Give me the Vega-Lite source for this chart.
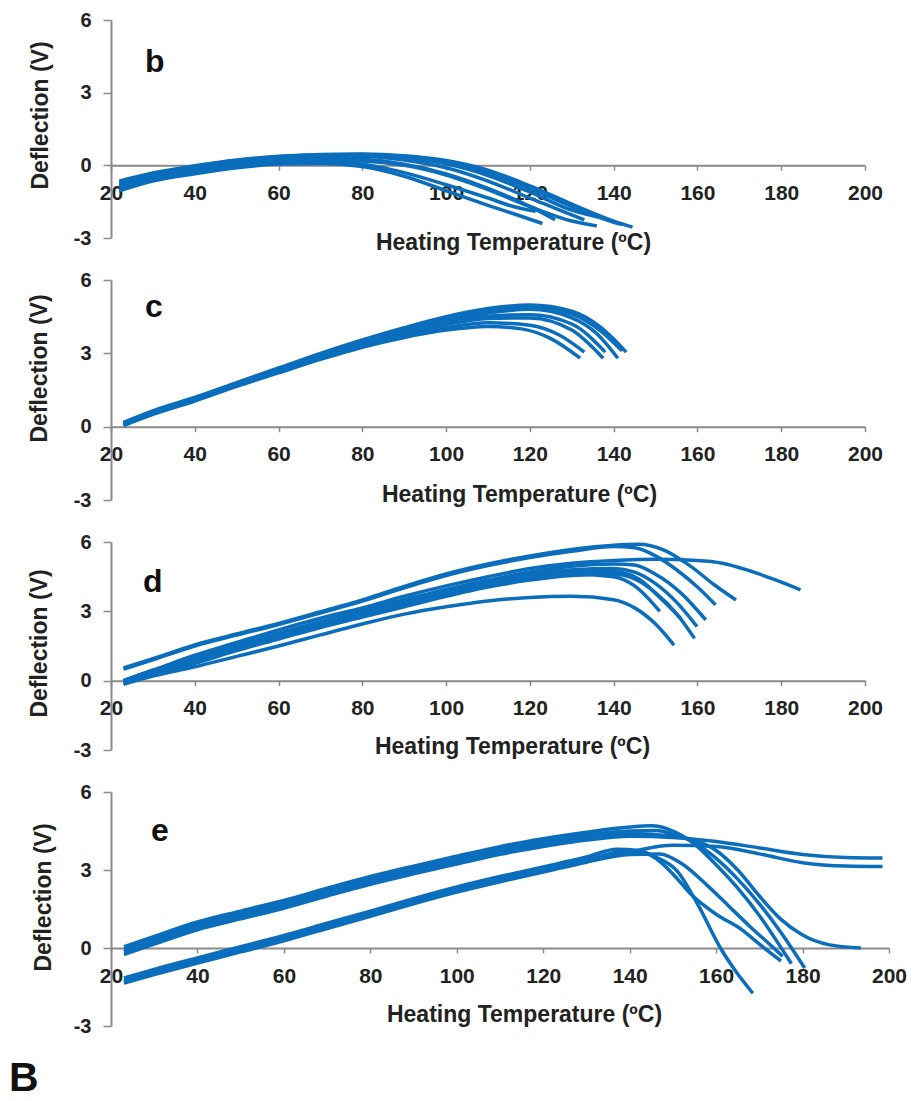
{
"$schema": "https://vega.github.io/schema/vega-lite/v6.json",
"background": "white",
"padding": {"left": 8, "top": 10, "right": 5, "bottom": 4},
"config": {
  "view": {"stroke": null},
  "axis": {"grid": false, "domainColor": "#8a8a8a", "domainWidth": 2, "tickColor": "#8a8a8a", "tickWidth": 1.5,
    "labelFont": "Liberation Sans", "labelFontWeight": "bold", "labelFontSize": 21, "labelColor": "#222", "labelFlush": false, "labelOverlap": false,
    "titleFont": "Liberation Sans", "titleFontWeight": "bold", "titleFontSize": 23, "titleColor": "#222"},
  "axisY": {"labelFontSize": 20, "labelExpr": "datum.value < 0 ? '-' + abs(datum.value) : datum.label"},
  "title": {"font": "Liberation Sans", "fontWeight": "bold", "color": "#111"}
},
"title": {"text": "B", "orient": "bottom", "anchor": "start", "frame": "bounds", "fontSize": 41, "dx": -19, "offset": 23},
"spacing": 42,
"bounds": "flush",
"vconcat": [
 {"width": 754, "height": 218, "data": {"name": "b"},
  "title": {"text": "b", "anchor": "start", "frame": "group", "orient": "top", "fontSize": 32, "baseline": "alphabetic", "offset": 0, "dx": 34, "dy": 94},
  "mark": {"type": "line", "strokeWidth": 3.5, "color": "#0a6ebd", "interpolate": "monotone"},
  "encoding": {
   "x": {"field": "T", "type": "quantitative", "scale": {"domain": [20, 200]}, "axis": {"values": [20,40,60,80,100,120,140,160,180,200], "offset": -72.7, "tickSize": 5, "labelPadding": 12, "title": "Heating Temperature (ºC)", "titleX": 402, "titleY": 84, "titleBaseline": "alphabetic", "titleAlign": "center"}},
   "y": {"field": "V", "type": "quantitative", "scale": {"domain": [-3, 6]}, "axis": {"values": [-3,0,3,6], "tickSize": 8, "labelPadding": 12, "title": "Deflection (V)", "titleX": -71, "titleY": 95, "titleBaseline": "middle", "titleAlign": "center"}},
   "detail": {"field": "run"}
  }},
 {"width": 754, "height": 220, "data": {"name": "c"},
  "title": {"text": "c", "anchor": "start", "frame": "group", "orient": "top", "fontSize": 32, "baseline": "alphabetic", "offset": 0, "dx": 34, "dy": 79},
  "mark": {"type": "line", "strokeWidth": 3.5, "color": "#0a6ebd", "interpolate": "monotone"},
  "encoding": {
   "x": {"field": "T", "type": "quantitative", "scale": {"domain": [20, 200]}, "axis": {"values": [20,40,60,80,100,120,140,160,180,200], "offset": -73.3, "tickSize": 5, "labelPadding": 12, "title": "Heating Temperature (ºC)", "titleX": 408, "titleY": 75, "titleBaseline": "alphabetic", "titleAlign": "center"}},
   "y": {"field": "V", "type": "quantitative", "scale": {"domain": [-3, 6]}, "axis": {"values": [-3,0,3,6], "tickSize": 8, "labelPadding": 12, "title": "Deflection (V)", "titleX": -72, "titleY": 88, "titleBaseline": "middle", "titleAlign": "center"}},
   "detail": {"field": "run"}
  }},
 {"width": 754, "height": 208, "data": {"name": "d"},
  "title": {"text": "d", "anchor": "start", "frame": "group", "orient": "top", "fontSize": 32, "baseline": "alphabetic", "offset": 0, "dx": 32, "dy": 92},
  "mark": {"type": "line", "strokeWidth": 3.5, "color": "#0a6ebd", "interpolate": "monotone"},
  "encoding": {
   "x": {"field": "T", "type": "quantitative", "scale": {"domain": [20, 200]}, "axis": {"values": [20,40,60,80,100,120,140,160,180,200], "offset": -69.3, "tickSize": 5, "labelPadding": 12, "title": "Heating Temperature (ºC)", "titleX": 401, "titleY": 73, "titleBaseline": "alphabetic", "titleAlign": "center"}},
   "y": {"field": "V", "type": "quantitative", "scale": {"domain": [-3, 6]}, "axis": {"values": [-3,0,3,6], "tickSize": 8, "labelPadding": 12, "title": "Deflection (V)", "titleX": -72, "titleY": 101, "titleBaseline": "middle", "titleAlign": "center"}},
   "detail": {"field": "run"}
  }},
 {"width": 778, "height": 234, "data": {"name": "e"},
  "title": {"text": "e", "anchor": "start", "frame": "group", "orient": "top", "fontSize": 32, "baseline": "alphabetic", "offset": 0, "dx": 40, "dy": 91},
  "mark": {"type": "line", "strokeWidth": 3.5, "color": "#0a6ebd", "interpolate": "monotone"},
  "encoding": {
   "x": {"field": "T", "type": "quantitative", "scale": {"domain": [20, 200]}, "axis": {"values": [20,40,60,80,100,120,140,160,180,200], "offset": -78, "tickSize": 5, "labelPadding": 12, "title": "Heating Temperature (ºC)", "titleX": 413, "titleY": 73, "titleBaseline": "alphabetic", "titleAlign": "center"}},
   "y": {"field": "V", "type": "quantitative", "scale": {"domain": [-3, 6]}, "axis": {"values": [-3,0,3,6], "tickSize": 8, "labelPadding": 12, "title": "Deflection (V)", "titleX": -68, "titleY": 105, "titleBaseline": "middle", "titleAlign": "center"}},
   "detail": {"field": "run"}
  }}
],
"datasets": {
"b": [
{"run":"b1","T":22,"V":-1.05},{"run":"b1","T":30,"V":-0.65},{"run":"b1","T":40,"V":-0.35},{"run":"b1","T":50,"V":-0.1},{"run":"b1","T":60,"V":0.05},{"run":"b1","T":70,"V":0.08},{"run":"b1","T":80,"V":-0.05},{"run":"b1","T":90,"V":-0.45},{"run":"b1","T":100,"V":-1.05},{"run":"b1","T":110,"V":-1.65},{"run":"b1","T":117,"V":-2.05},{"run":"b1","T":123,"V":-2.4},
{"run":"b2","T":22,"V":-1.0},{"run":"b2","T":30,"V":-0.6},{"run":"b2","T":40,"V":-0.3},{"run":"b2","T":50,"V":-0.05},{"run":"b2","T":60,"V":0.1},{"run":"b2","T":70,"V":0.15},{"run":"b2","T":80,"V":0.05},{"run":"b2","T":90,"V":-0.3},{"run":"b2","T":100,"V":-0.8},{"run":"b2","T":110,"V":-1.35},{"run":"b2","T":116,"V":-1.7},{"run":"b2","T":121.4,"V":-1.9},
{"run":"b3","T":22,"V":-0.85},{"run":"b3","T":30,"V":-0.5},{"run":"b3","T":40,"V":-0.2},{"run":"b3","T":50,"V":0.05},{"run":"b3","T":60,"V":0.22},{"run":"b3","T":70,"V":0.3},{"run":"b3","T":80,"V":0.25},{"run":"b3","T":90,"V":0.05},{"run":"b3","T":100,"V":-0.35},{"run":"b3","T":110,"V":-0.95},{"run":"b3","T":120,"V":-1.7},{"run":"b3","T":126,"V":-2.25},
{"run":"b4","T":22,"V":-0.8},{"run":"b4","T":30,"V":-0.45},{"run":"b4","T":40,"V":-0.12},{"run":"b4","T":50,"V":0.12},{"run":"b4","T":60,"V":0.28},{"run":"b4","T":70,"V":0.36},{"run":"b4","T":80,"V":0.36},{"run":"b4","T":90,"V":0.22},{"run":"b4","T":100,"V":-0.1},{"run":"b4","T":110,"V":-0.65},{"run":"b4","T":120,"V":-1.35},{"run":"b4","T":130,"V":-2.05},{"run":"b4","T":133,"V":-2.25},
{"run":"b5","T":22,"V":-0.75},{"run":"b5","T":30,"V":-0.4},{"run":"b5","T":40,"V":-0.08},{"run":"b5","T":50,"V":0.17},{"run":"b5","T":60,"V":0.32},{"run":"b5","T":70,"V":0.4},{"run":"b5","T":80,"V":0.42},{"run":"b5","T":90,"V":0.32},{"run":"b5","T":100,"V":0.06},{"run":"b5","T":110,"V":-0.42},{"run":"b5","T":120,"V":-1.1},{"run":"b5","T":130,"V":-1.85},{"run":"b5","T":138,"V":-2.2},
{"run":"b6","T":22,"V":-0.7},{"run":"b6","T":30,"V":-0.36},{"run":"b6","T":40,"V":-0.05},{"run":"b6","T":50,"V":0.2},{"run":"b6","T":60,"V":0.35},{"run":"b6","T":70,"V":0.44},{"run":"b6","T":80,"V":0.45},{"run":"b6","T":90,"V":0.37},{"run":"b6","T":100,"V":0.14},{"run":"b6","T":110,"V":-0.3},{"run":"b6","T":120,"V":-0.95},{"run":"b6","T":130,"V":-1.7},{"run":"b6","T":140,"V":-2.35},{"run":"b6","T":142,"V":-2.45},
{"run":"b7","T":22,"V":-0.65},{"run":"b7","T":30,"V":-0.32},{"run":"b7","T":40,"V":-0.02},{"run":"b7","T":50,"V":0.22},{"run":"b7","T":60,"V":0.37},{"run":"b7","T":70,"V":0.45},{"run":"b7","T":80,"V":0.47},{"run":"b7","T":90,"V":0.4},{"run":"b7","T":100,"V":0.2},{"run":"b7","T":110,"V":-0.2},{"run":"b7","T":120,"V":-0.85},{"run":"b7","T":130,"V":-1.6},{"run":"b7","T":140,"V":-2.3},{"run":"b7","T":144.5,"V":-2.55},
{"run":"b8","T":22,"V":-0.9},{"run":"b8","T":30,"V":-0.55},{"run":"b8","T":40,"V":-0.25},{"run":"b8","T":50,"V":0.0},{"run":"b8","T":60,"V":0.15},{"run":"b8","T":70,"V":0.22},{"run":"b8","T":80,"V":0.18},{"run":"b8","T":90,"V":0.0},{"run":"b8","T":100,"V":-0.4},{"run":"b8","T":110,"V":-1.0},{"run":"b8","T":120,"V":-1.7},{"run":"b8","T":130,"V":-2.3},{"run":"b8","T":136,"V":-2.5}
],
"c": [
{"run":"c1","T":23,"V":0.05},{"run":"c1","T":30,"V":0.5},{"run":"c1","T":40,"V":1.05},{"run":"c1","T":50,"V":1.65},{"run":"c1","T":60,"V":2.2},{"run":"c1","T":70,"V":2.75},{"run":"c1","T":80,"V":3.25},{"run":"c1","T":90,"V":3.65},{"run":"c1","T":100,"V":3.95},{"run":"c1","T":110,"V":4.1},{"run":"c1","T":118,"V":4.0},{"run":"c1","T":125,"V":3.6},{"run":"c1","T":132,"V":2.8},
{"run":"c2","T":23,"V":0.05},{"run":"c2","T":30,"V":0.52},{"run":"c2","T":40,"V":1.08},{"run":"c2","T":50,"V":1.68},{"run":"c2","T":60,"V":2.25},{"run":"c2","T":70,"V":2.8},{"run":"c2","T":80,"V":3.3},{"run":"c2","T":90,"V":3.72},{"run":"c2","T":100,"V":4.05},{"run":"c2","T":110,"V":4.25},{"run":"c2","T":120,"V":4.15},{"run":"c2","T":127,"V":3.75},{"run":"c2","T":133,"V":3.05},
{"run":"c3","T":23,"V":0.1},{"run":"c3","T":30,"V":0.55},{"run":"c3","T":40,"V":1.1},{"run":"c3","T":50,"V":1.7},{"run":"c3","T":60,"V":2.3},{"run":"c3","T":70,"V":2.85},{"run":"c3","T":80,"V":3.35},{"run":"c3","T":90,"V":3.8},{"run":"c3","T":100,"V":4.18},{"run":"c3","T":110,"V":4.42},{"run":"c3","T":120,"V":4.45},{"run":"c3","T":130,"V":3.95},{"run":"c3","T":137.5,"V":2.8},
{"run":"c4","T":23,"V":0.1},{"run":"c4","T":30,"V":0.57},{"run":"c4","T":40,"V":1.12},{"run":"c4","T":50,"V":1.72},{"run":"c4","T":60,"V":2.32},{"run":"c4","T":70,"V":2.88},{"run":"c4","T":80,"V":3.4},{"run":"c4","T":90,"V":3.85},{"run":"c4","T":100,"V":4.25},{"run":"c4","T":110,"V":4.52},{"run":"c4","T":120,"V":4.58},{"run":"c4","T":130,"V":4.2},{"run":"c4","T":138,"V":3.05},
{"run":"c5","T":23,"V":0.12},{"run":"c5","T":30,"V":0.6},{"run":"c5","T":40,"V":1.15},{"run":"c5","T":50,"V":1.75},{"run":"c5","T":60,"V":2.35},{"run":"c5","T":70,"V":2.92},{"run":"c5","T":80,"V":3.45},{"run":"c5","T":90,"V":3.95},{"run":"c5","T":100,"V":4.35},{"run":"c5","T":110,"V":4.65},{"run":"c5","T":120,"V":4.8},{"run":"c5","T":130,"V":4.45},{"run":"c5","T":136,"V":3.8},{"run":"c5","T":141,"V":2.8},
{"run":"c6","T":23,"V":0.18},{"run":"c6","T":30,"V":0.65},{"run":"c6","T":40,"V":1.2},{"run":"c6","T":50,"V":1.8},{"run":"c6","T":60,"V":2.4},{"run":"c6","T":70,"V":3.0},{"run":"c6","T":80,"V":3.55},{"run":"c6","T":90,"V":4.05},{"run":"c6","T":100,"V":4.5},{"run":"c6","T":110,"V":4.83},{"run":"c6","T":120,"V":4.98},{"run":"c6","T":130,"V":4.72},{"run":"c6","T":137,"V":4.05},{"run":"c6","T":143,"V":3.05},
{"run":"c7","T":23,"V":0.15},{"run":"c7","T":30,"V":0.62},{"run":"c7","T":40,"V":1.18},{"run":"c7","T":50,"V":1.78},{"run":"c7","T":60,"V":2.38},{"run":"c7","T":70,"V":2.96},{"run":"c7","T":80,"V":3.5},{"run":"c7","T":90,"V":4.0},{"run":"c7","T":100,"V":4.42},{"run":"c7","T":110,"V":4.75},{"run":"c7","T":120,"V":4.9},{"run":"c7","T":130,"V":4.6},{"run":"c7","T":137,"V":3.9},{"run":"c7","T":142,"V":3.1}
],
"d": [
{"run":"d1","T":23,"V":0.55},{"run":"d1","T":30,"V":0.95},{"run":"d1","T":40,"V":1.55},{"run":"d1","T":50,"V":2.02},{"run":"d1","T":60,"V":2.48},{"run":"d1","T":70,"V":2.98},{"run":"d1","T":80,"V":3.49},{"run":"d1","T":90,"V":4.08},{"run":"d1","T":100,"V":4.62},{"run":"d1","T":110,"V":5.05},{"run":"d1","T":120,"V":5.4},{"run":"d1","T":130,"V":5.68},{"run":"d1","T":140,"V":5.86},{"run":"d1","T":146,"V":5.9},{"run":"d1","T":152,"V":5.65},{"run":"d1","T":158,"V":5.0},{"run":"d1","T":164,"V":4.15},{"run":"d1","T":169.2,"V":3.49},
{"run":"d8","T":23,"V":0.5},{"run":"d8","T":30,"V":0.9},{"run":"d8","T":40,"V":1.5},{"run":"d8","T":50,"V":1.97},{"run":"d8","T":60,"V":2.43},{"run":"d8","T":70,"V":2.93},{"run":"d8","T":80,"V":3.44},{"run":"d8","T":90,"V":4.02},{"run":"d8","T":100,"V":4.55},{"run":"d8","T":110,"V":4.98},{"run":"d8","T":120,"V":5.33},{"run":"d8","T":130,"V":5.6},{"run":"d8","T":140,"V":5.8},{"run":"d8","T":145,"V":5.75},{"run":"d8","T":150,"V":5.4},{"run":"d8","T":155,"V":4.8},{"run":"d8","T":160,"V":4.05},{"run":"d8","T":164.3,"V":3.28},
{"run":"d2","T":23,"V":0.0},{"run":"d2","T":30,"V":0.45},{"run":"d2","T":40,"V":1.1},{"run":"d2","T":50,"V":1.65},{"run":"d2","T":60,"V":2.2},{"run":"d2","T":70,"V":2.7},{"run":"d2","T":80,"V":3.15},{"run":"d2","T":90,"V":3.65},{"run":"d2","T":100,"V":4.1},{"run":"d2","T":110,"V":4.5},{"run":"d2","T":120,"V":4.85},{"run":"d2","T":130,"V":5.08},{"run":"d2","T":140,"V":5.2},{"run":"d2","T":150,"V":5.25},{"run":"d2","T":160,"V":5.2},{"run":"d2","T":166,"V":5.08},{"run":"d2","T":172,"V":4.78},{"run":"d2","T":178,"V":4.4},{"run":"d2","T":184.6,"V":3.93},
{"run":"d3","T":23,"V":-0.1},{"run":"d3","T":30,"V":0.3},{"run":"d3","T":40,"V":0.85},{"run":"d3","T":50,"V":1.4},{"run":"d3","T":60,"V":1.9},{"run":"d3","T":70,"V":2.4},{"run":"d3","T":80,"V":2.85},{"run":"d3","T":90,"V":3.3},{"run":"d3","T":100,"V":3.75},{"run":"d3","T":110,"V":4.15},{"run":"d3","T":120,"V":4.45},{"run":"d3","T":130,"V":4.6},{"run":"d3","T":140,"V":4.5},{"run":"d3","T":145,"V":4.1},{"run":"d3","T":151,"V":3.0},
{"run":"d4","T":23,"V":-0.15},{"run":"d4","T":30,"V":0.25},{"run":"d4","T":40,"V":0.75},{"run":"d4","T":50,"V":1.3},{"run":"d4","T":60,"V":1.8},{"run":"d4","T":70,"V":2.3},{"run":"d4","T":80,"V":2.75},{"run":"d4","T":90,"V":3.2},{"run":"d4","T":100,"V":3.65},{"run":"d4","T":110,"V":4.05},{"run":"d4","T":120,"V":4.35},{"run":"d4","T":130,"V":4.55},{"run":"d4","T":140,"V":4.6},{"run":"d4","T":145,"V":4.4},{"run":"d4","T":150,"V":3.8},{"run":"d4","T":155,"V":2.9},{"run":"d4","T":159.3,"V":1.83},
{"run":"d5","T":23,"V":-0.05},{"run":"d5","T":30,"V":0.4},{"run":"d5","T":40,"V":0.95},{"run":"d5","T":50,"V":1.5},{"run":"d5","T":60,"V":2.0},{"run":"d5","T":70,"V":2.5},{"run":"d5","T":80,"V":2.95},{"run":"d5","T":90,"V":3.4},{"run":"d5","T":100,"V":3.85},{"run":"d5","T":110,"V":4.25},{"run":"d5","T":120,"V":4.6},{"run":"d5","T":130,"V":4.8},{"run":"d5","T":140,"V":4.85},{"run":"d5","T":145,"V":4.7},{"run":"d5","T":150,"V":4.2},{"run":"d5","T":155,"V":3.4},{"run":"d5","T":159.9,"V":2.34},
{"run":"d6","T":23,"V":0.0},{"run":"d6","T":30,"V":0.45},{"run":"d6","T":40,"V":1.0},{"run":"d6","T":50,"V":1.55},{"run":"d6","T":60,"V":2.05},{"run":"d6","T":70,"V":2.55},{"run":"d6","T":80,"V":3.05},{"run":"d6","T":90,"V":3.5},{"run":"d6","T":100,"V":3.95},{"run":"d6","T":110,"V":4.35},{"run":"d6","T":120,"V":4.7},{"run":"d6","T":130,"V":4.95},{"run":"d6","T":140,"V":5.05},{"run":"d6","T":145,"V":5.0},{"run":"d6","T":150,"V":4.6},{"run":"d6","T":156,"V":3.8},{"run":"d6","T":162,"V":2.63},
{"run":"d7","T":23,"V":-0.1},{"run":"d7","T":30,"V":0.35},{"run":"d7","T":40,"V":0.9},{"run":"d7","T":50,"V":1.45},{"run":"d7","T":60,"V":1.95},{"run":"d7","T":70,"V":2.45},{"run":"d7","T":80,"V":2.9},{"run":"d7","T":90,"V":3.35},{"run":"d7","T":100,"V":3.8},{"run":"d7","T":110,"V":4.2},{"run":"d7","T":120,"V":4.52},{"run":"d7","T":130,"V":4.7},{"run":"d7","T":140,"V":4.72},{"run":"d7","T":146,"V":4.4},{"run":"d7","T":151,"V":3.6},{"run":"d7","T":156,"V":2.7},
{"run":"d9","T":23,"V":-0.15},{"run":"d9","T":30,"V":0.2},{"run":"d9","T":40,"V":0.6},{"run":"d9","T":50,"V":1.05},{"run":"d9","T":60,"V":1.5},{"run":"d9","T":70,"V":1.98},{"run":"d9","T":80,"V":2.45},{"run":"d9","T":90,"V":2.88},{"run":"d9","T":100,"V":3.2},{"run":"d9","T":110,"V":3.45},{"run":"d9","T":120,"V":3.6},{"run":"d9","T":130,"V":3.65},{"run":"d9","T":140,"V":3.5},{"run":"d9","T":145,"V":3.15},{"run":"d9","T":150,"V":2.45},{"run":"d9","T":154.4,"V":1.54}
],
"e": [
{"run":"e3","T":23,"V":0.05},{"run":"e3","T":30,"V":0.45},{"run":"e3","T":40,"V":1.0},{"run":"e3","T":50,"V":1.42},{"run":"e3","T":60,"V":1.83},{"run":"e3","T":70,"V":2.3},{"run":"e3","T":80,"V":2.75},{"run":"e3","T":90,"V":3.15},{"run":"e3","T":100,"V":3.53},{"run":"e3","T":110,"V":3.9},{"run":"e3","T":120,"V":4.2},{"run":"e3","T":130,"V":4.45},{"run":"e3","T":140,"V":4.65},{"run":"e3","T":145,"V":4.7},{"run":"e3","T":150,"V":4.5},{"run":"e3","T":155,"V":4.0},{"run":"e3","T":160,"V":3.2},{"run":"e3","T":165,"V":2.3},{"run":"e3","T":170,"V":1.25},{"run":"e3","T":173.5,"V":0.4},{"run":"e3","T":177.4,"V":-0.6},
{"run":"e4","T":23,"V":-0.05},{"run":"e4","T":30,"V":0.35},{"run":"e4","T":40,"V":0.9},{"run":"e4","T":50,"V":1.32},{"run":"e4","T":60,"V":1.73},{"run":"e4","T":70,"V":2.2},{"run":"e4","T":80,"V":2.65},{"run":"e4","T":90,"V":3.05},{"run":"e4","T":100,"V":3.43},{"run":"e4","T":110,"V":3.8},{"run":"e4","T":120,"V":4.1},{"run":"e4","T":130,"V":4.35},{"run":"e4","T":140,"V":4.5},{"run":"e4","T":146,"V":4.52},{"run":"e4","T":150,"V":4.38},{"run":"e4","T":155,"V":4.05},{"run":"e4","T":160,"V":3.45},{"run":"e4","T":165,"V":2.65},{"run":"e4","T":170,"V":1.7},{"run":"e4","T":175,"V":0.6},{"run":"e4","T":180.5,"V":-0.77},
{"run":"e5","T":23,"V":-0.15},{"run":"e5","T":30,"V":0.25},{"run":"e5","T":40,"V":0.8},{"run":"e5","T":50,"V":1.22},{"run":"e5","T":60,"V":1.63},{"run":"e5","T":70,"V":2.1},{"run":"e5","T":80,"V":2.55},{"run":"e5","T":90,"V":2.95},{"run":"e5","T":100,"V":3.33},{"run":"e5","T":110,"V":3.7},{"run":"e5","T":120,"V":4.0},{"run":"e5","T":130,"V":4.25},{"run":"e5","T":140,"V":4.4},{"run":"e5","T":150,"V":4.3},{"run":"e5","T":155,"V":4.15},{"run":"e5","T":160,"V":3.75},{"run":"e5","T":165,"V":3.0},{"run":"e5","T":170,"V":2.0},{"run":"e5","T":175,"V":1.1},{"run":"e5","T":180,"V":0.5},{"run":"e5","T":186,"V":0.13},{"run":"e5","T":193.5,"V":0.0},
{"run":"e6","T":23,"V":-0.25},{"run":"e6","T":30,"V":0.15},{"run":"e6","T":40,"V":0.7},{"run":"e6","T":50,"V":1.12},{"run":"e6","T":60,"V":1.53},{"run":"e6","T":70,"V":2.0},{"run":"e6","T":80,"V":2.45},{"run":"e6","T":90,"V":2.85},{"run":"e6","T":100,"V":3.23},{"run":"e6","T":110,"V":3.6},{"run":"e6","T":120,"V":3.9},{"run":"e6","T":130,"V":4.15},{"run":"e6","T":140,"V":4.3},{"run":"e6","T":150,"V":4.25},{"run":"e6","T":160,"V":4.1},{"run":"e6","T":170,"V":3.85},{"run":"e6","T":180,"V":3.6},{"run":"e6","T":190,"V":3.48},{"run":"e6","T":198.5,"V":3.46},
{"run":"e1","T":23,"V":-1.15},{"run":"e1","T":30,"V":-0.82},{"run":"e1","T":40,"V":-0.38},{"run":"e1","T":50,"V":0.05},{"run":"e1","T":60,"V":0.48},{"run":"e1","T":70,"V":0.95},{"run":"e1","T":80,"V":1.42},{"run":"e1","T":90,"V":1.9},{"run":"e1","T":100,"V":2.35},{"run":"e1","T":110,"V":2.75},{"run":"e1","T":120,"V":3.12},{"run":"e1","T":130,"V":3.5},{"run":"e1","T":137,"V":3.8},{"run":"e1","T":142,"V":3.75},{"run":"e1","T":146,"V":3.5},{"run":"e1","T":151,"V":2.96},{"run":"e1","T":156,"V":1.6},{"run":"e1","T":161,"V":0.0},{"run":"e1","T":165,"V":-1.0},{"run":"e1","T":168.5,"V":-1.74},
{"run":"e2","T":23,"V":-1.25},{"run":"e2","T":30,"V":-0.92},{"run":"e2","T":40,"V":-0.48},{"run":"e2","T":50,"V":-0.05},{"run":"e2","T":60,"V":0.38},{"run":"e2","T":70,"V":0.85},{"run":"e2","T":80,"V":1.32},{"run":"e2","T":90,"V":1.8},{"run":"e2","T":100,"V":2.25},{"run":"e2","T":110,"V":2.65},{"run":"e2","T":120,"V":3.02},{"run":"e2","T":130,"V":3.38},{"run":"e2","T":138,"V":3.7},{"run":"e2","T":142,"V":3.72},{"run":"e2","T":146,"V":3.45},{"run":"e2","T":150,"V":2.85},{"run":"e2","T":154,"V":2.1},{"run":"e2","T":160,"V":1.3},{"run":"e2","T":166,"V":0.7},{"run":"e2","T":170,"V":0.15},{"run":"e2","T":175,"V":-0.5},
{"run":"e7","T":23,"V":-1.3},{"run":"e7","T":30,"V":-0.97},{"run":"e7","T":40,"V":-0.53},{"run":"e7","T":50,"V":-0.1},{"run":"e7","T":60,"V":0.33},{"run":"e7","T":70,"V":0.8},{"run":"e7","T":80,"V":1.27},{"run":"e7","T":90,"V":1.75},{"run":"e7","T":100,"V":2.2},{"run":"e7","T":110,"V":2.6},{"run":"e7","T":120,"V":2.97},{"run":"e7","T":130,"V":3.35},{"run":"e7","T":140,"V":3.7},{"run":"e7","T":150,"V":3.95},{"run":"e7","T":160,"V":3.9},{"run":"e7","T":170,"V":3.62},{"run":"e7","T":180,"V":3.28},{"run":"e7","T":190,"V":3.15},{"run":"e7","T":198.5,"V":3.13},
{"run":"e8","T":23,"V":-1.35},{"run":"e8","T":30,"V":-1.02},{"run":"e8","T":40,"V":-0.58},{"run":"e8","T":50,"V":-0.15},{"run":"e8","T":60,"V":0.28},{"run":"e8","T":70,"V":0.75},{"run":"e8","T":80,"V":1.22},{"run":"e8","T":90,"V":1.7},{"run":"e8","T":100,"V":2.15},{"run":"e8","T":110,"V":2.55},{"run":"e8","T":120,"V":2.92},{"run":"e8","T":130,"V":3.3},{"run":"e8","T":140,"V":3.6},{"run":"e8","T":147,"V":3.62},{"run":"e8","T":152,"V":3.25},{"run":"e8","T":158,"V":2.4},{"run":"e8","T":163,"V":1.6},{"run":"e8","T":168,"V":0.8},{"run":"e8","T":172,"V":0.2},{"run":"e8","T":175.4,"V":-0.32}
]
}
}
